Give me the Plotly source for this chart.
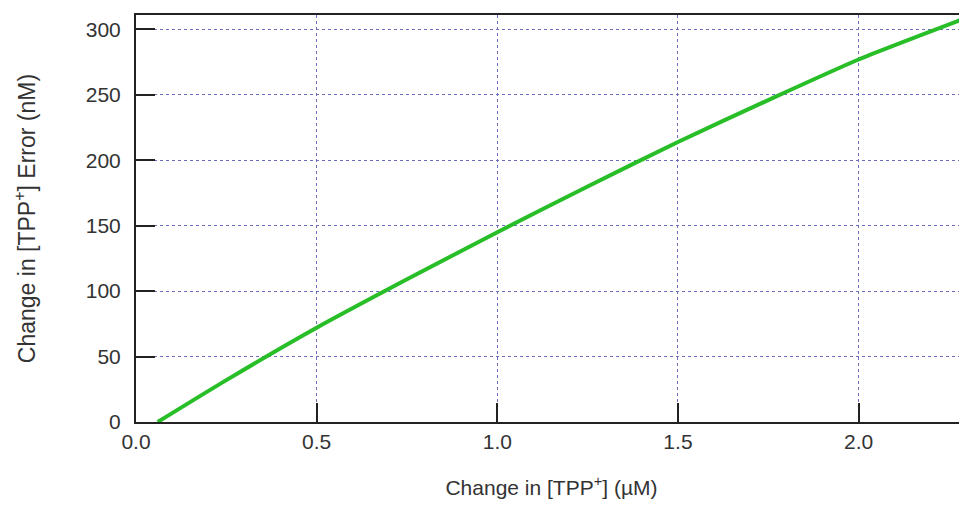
import plotly.graph_objects as go

x_vals = [0.06, 0.25, 0.5, 0.75, 1.0, 1.25, 1.5, 1.75, 2.0, 2.3]
y_vals = [0, 32, 72, 109, 145, 180, 214, 246, 277, 309]
x_ticks = [0.0, 0.5, 1.0, 1.5, 2.0]
x_ticklabels = ["0.0", "0.5", "1.0", "1.5", "2.0"]
y_ticks = [0, 50, 100, 150, 200, 250, 300]

fig = go.Figure()
fig.add_trace(go.Scatter(x=x_vals, y=y_vals, mode="lines",
                         line=dict(color="rgb(40,190,40)", width=4, shape="spline",
                                   smoothing=0.6)))

font = dict(family="Liberation Sans, Arial, sans-serif", size=21, color="#333333")
fig.update_layout(
    width=959, height=515,
    margin=dict(l=128, r=0, t=7, b=101),
    paper_bgcolor="white", plot_bgcolor="white",
    showlegend=False,
    font=font,
    xaxis=dict(range=[0, 2.3], tickvals=x_ticks, ticktext=x_ticklabels,
               showline=True, linecolor="#222222", linewidth=2, mirror=True,
               ticks="inside", ticklen=19, tickcolor="#222222", tickwidth=2,
               showgrid=True, gridcolor="rgb(110,110,190)", griddash="dot", gridwidth=1,
               zeroline=False,
               title=dict(text="Change in [TPP<sup>+</sup>] (µM)", standoff=28,
                          font=dict(size=21))),
    yaxis=dict(range=[0, 311], tickvals=y_ticks,
               showline=True, linecolor="#222222", linewidth=2, mirror=False,
               ticks="inside", ticklen=19, tickcolor="#222222", tickwidth=2,
               ticklabelstandoff=9,
               showgrid=True, gridcolor="rgb(110,110,190)", griddash="dot", gridwidth=1,
               zeroline=False,
               title=dict(text="Change in [TPP<sup>+</sup>] Error (nM)", standoff=44,
                          font=dict(size=23))),
)
fig.write_html("out.html")
